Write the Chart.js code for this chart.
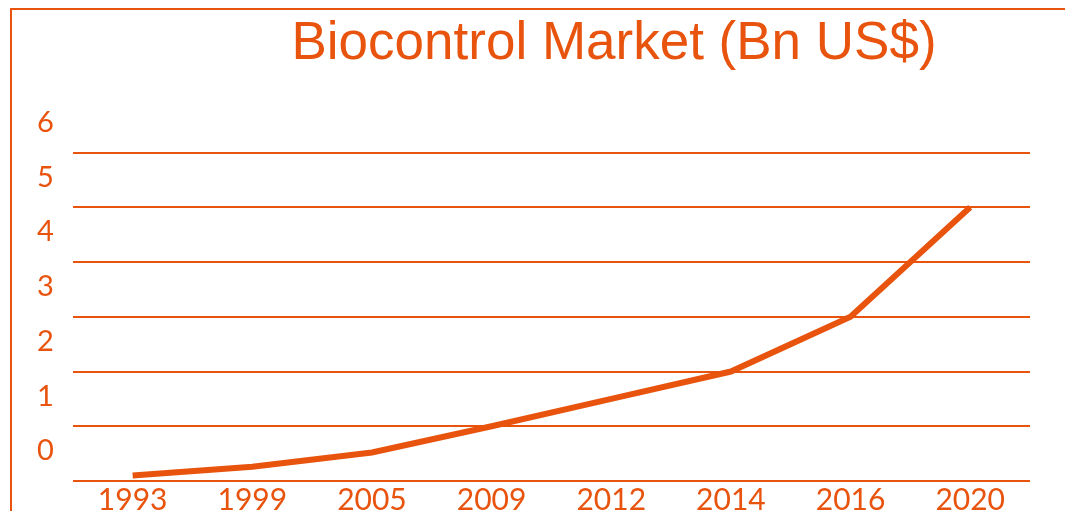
<!DOCTYPE html>
<html>
<head>
<meta charset="utf-8">
<script src="https://cdn.jsdelivr.net/npm/chart.js@4/dist/chart.umd.min.js"></script>
<style>
  html, body { margin: 0; padding: 0; background: #fff; overflow: hidden; width: 1065px; height: 511px; }
  #frame { position: absolute; left: 10px; top: 8px; width: 1100px; height: 600px;
           border-top: 2px solid #E8530E; border-left: 2px solid #E8530E; }
  #wrap { position: absolute; left: 0; top: 0; width: 1065px; height: 530px; }
</style>
</head>
<body>
<div id="frame"></div>
<div id="wrap"><canvas id="marketChart"></canvas></div>
<script>
// ── 데이터
const years = ['1993', '1999', '2005', '2009', '2012', '2014', '2016', '2020'];
const marketBn = [0.1, 0.26, 0.52, 1.0, 1.5, 2.0, 3.0, 5.0];
const yTicks = [0, 1, 2, 3, 4, 5, 6];

const ORANGE = '#E8530E';

Chart.defaults.font.family = "Lato, 'Open Sans', sans-serif";
Chart.defaults.color = ORANGE;

// 제목을 원본처럼 오른쪽으로 살짝 이동
const titleShift = {
  id: 'titleShift',
  afterLayout(chart) {
    const t = chart.titleBlock;
    if (!t) return;
    t.left += 90;
    t.right += 90;
  }
};

const ctx = document.getElementById('marketChart');
new Chart(ctx, {
  type: 'line',
  data: {
    labels: years,
    datasets: [{
      label: 'Biocontrol Market',
      data: marketBn,
      borderColor: ORANGE,
      backgroundColor: ORANGE,
      borderWidth: 6,
      borderCapStyle: 'butt',
      tension: 0,
      pointRadius: 0,
      fill: false
    }]
  },
  options: {
    responsive: true,
    maintainAspectRatio: false,
    animation: false,
    layout: { padding: { left: 18, right: 35, bottom: 11, top: 0 } },
    plugins: {
      legend: { display: false },
      tooltip: { enabled: false },
      title: {
        display: true,
        text: 'Biocontrol Market (Bn US$)',
        color: ORANGE,
        font: { family: "'Liberation Sans', Arial, sans-serif", size: 53, weight: 'normal', lineHeight: 1.2 },
        padding: { top: 13, bottom: 76 }
      }
    },
    scales: {
      x: {
        offset: true,
        grid: { display: false, drawTicks: false },
        border: { display: false },
        ticks: { font: { size: 30 }, padding: 1, maxRotation: 0 }
      },
      y: {
        min: yTicks[0],
        max: yTicks[yTicks.length - 1],
        afterBuildTicks: axis => { axis.ticks = yTicks.map(v => ({ value: v })); },
        grid: { color: ORANGE, lineWidth: 2, drawTicks: false },
        border: { display: false },
        ticks: { font: { size: 29 }, padding: 19, labelOffset: -30 }
      }
    }
  },
  plugins: [titleShift]
});
</script>
</body>
</html>
